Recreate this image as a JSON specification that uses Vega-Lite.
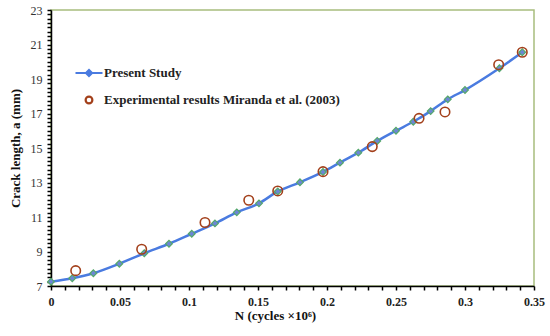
{
  "$schema": "https://vega.github.io/schema/vega-lite/v6.json",
  "width": 483,
  "height": 276,
  "autosize": {"type": "none"},
  "padding": {"left": 51, "top": 10, "right": 16, "bottom": 50},
  "background": "white",
  "config": {"view": {"stroke": "#a8bd7e", "strokeWidth": 1.5}, "font": "Liberation Serif"},
  "datasets": {
    "present": [
      {"N": 0, "a": 7.25}, {"N": 0.0154, "a": 7.45}, {"N": 0.0307, "a": 7.74}, {"N": 0.0495, "a": 8.29},
      {"N": 0.0676, "a": 8.9}, {"N": 0.0855, "a": 9.45}, {"N": 0.102, "a": 10.03}, {"N": 0.1188, "a": 10.63},
      {"N": 0.1346, "a": 11.27}, {"N": 0.1507, "a": 11.79}, {"N": 0.1643, "a": 12.48}, {"N": 0.1804, "a": 13.01},
      {"N": 0.1971, "a": 13.61}, {"N": 0.2094, "a": 14.15}, {"N": 0.2227, "a": 14.73}, {"N": 0.2364, "a": 15.41},
      {"N": 0.25, "a": 16.0}, {"N": 0.2625, "a": 16.52}, {"N": 0.2751, "a": 17.14}, {"N": 0.2875, "a": 17.82},
      {"N": 0.3, "a": 18.36}, {"N": 0.3249, "a": 19.62}, {"N": 0.3415, "a": 20.55}
    ],
    "exp": [
      {"N": 0.0179, "a": 7.89}, {"N": 0.0657, "a": 9.13}, {"N": 0.1116, "a": 10.68}, {"N": 0.1433, "a": 11.97},
      {"N": 0.1643, "a": 12.51}, {"N": 0.1971, "a": 13.63}, {"N": 0.2328, "a": 15.08}, {"N": 0.2667, "a": 16.72},
      {"N": 0.2855, "a": 17.09}, {"N": 0.3244, "a": 19.83}, {"N": 0.3415, "a": 20.55}
    ]
  },
  "encoding": {
    "x": {
      "field": "N", "type": "quantitative",
      "scale": {"domain": [0, 0.35], "nice": false, "zero": false},
      "axis": {
        "title": "N (cycles ×10⁶)",
        "values": [0,0.01,0.02,0.03,0.04,0.05,0.06,0.07,0.08,0.09,0.1,0.11,0.12,0.13,0.14,0.15,0.16,0.17,0.18,0.19,0.2,0.21,0.22,0.23,0.24,0.25,0.26,0.27,0.28,0.29,0.3,0.31,0.32,0.33,0.34,0.35],
        "labelExpr": "abs(datum.value*20 - round(datum.value*20)) < 0.001 ? format(datum.value, '~g') : ''",
        "labelOverlap": false, "labelFlush": false, "labelBound": false,
        "grid": false, "domainColor": "#000", "domainWidth": 1.5,
        "tickColor": "#000", "tickSize": 4, "tickWidth": 1.5,
        "labelFont": "Liberation Serif", "labelFontSize": 12, "labelFontWeight": "bold", "labelColor": "#222", "labelPadding": 6,
        "titleFont": "Liberation Serif", "titleFontSize": 13, "titleFontWeight": "bold", "titleColor": "#111",
        "titleX": 224, "titleY": 29, "titleAlign": "center", "titleBaseline": "middle"
      }
    },
    "y": {
      "field": "a", "type": "quantitative",
      "scale": {"domain": [7, 23], "nice": false, "zero": false},
      "axis": {
        "title": "Crack length, a (mm)",
        "values": [7,7.25,7.5,7.75,8,8.25,8.5,8.75,9,9.25,9.5,9.75,10,10.25,10.5,10.75,11,11.25,11.5,11.75,12,12.25,12.5,12.75,13,13.25,13.5,13.75,14,14.25,14.5,14.75,15,15.25,15.5,15.75,16,16.25,16.5,16.75,17,17.25,17.5,17.75,18,18.25,18.5,18.75,19,19.25,19.5,19.75,20,20.25,20.5,20.75,21,21.25,21.5,21.75,22,22.25,22.5,22.75,23],
        "labelExpr": "datum.value % 2 == 1 ? format(datum.value, 'd') : ''",
        "labelOverlap": false, "labelFlush": false, "labelBound": false,
        "grid": false, "domainColor": "#000", "domainWidth": 1.5,
        "tickColor": "#000", "tickSize": 4, "tickWidth": 1.5,
        "labelFont": "Liberation Serif", "labelFontSize": 12, "labelColor": "#333", "labelPadding": 5,
        "titleFont": "Liberation Serif", "titleFontSize": 13, "titleFontWeight": "bold", "titleColor": "#111",
        "titleX": -36, "titleY": 138, "titleAlign": "center", "titleBaseline": "middle", "titleAngle": 270
      }
    }
  },
  "layer": [
    {
      "data": {"name": "present"},
      "mark": {"type": "line", "interpolate": "monotone", "color": "#4a7be0", "strokeWidth": 2.5}
    },
    {
      "data": {"name": "present"},
      "mark": {"type": "point", "shape": "diamond", "filled": true, "size": 45, "fill": "#6c86d6", "stroke": "#55a86a", "strokeWidth": 1.2, "opacity": 1}
    },
    {
      "data": {"name": "exp"},
      "mark": {"type": "point", "shape": "circle", "filled": false, "size": 90, "stroke": "#a3401b", "strokeWidth": 1.6, "opacity": 1}
    },
    {
      "data": {"name": "exp"},
      "transform": [{"filter": "datum.a < 0"}],
      "mark": {"type": "point", "strokeWidth": 2.2},
      "encoding": {
        "shape": {
          "field": "series", "type": "nominal",
          "scale": {"domain": ["Present Study", "Experimental results Miranda et al. (2003)"], "range": ["M-1,0H1M0,-0.22L0.22,0L0,0.22L-0.22,0Z", "M0.25,0A0.25,0.25,0,1,1,-0.25,0A0.25,0.25,0,1,1,0.25,0Z"]},
          "legend": {"title": null, "orient": "none", "legendX": 23, "legendY": 48, "symbolSize": 729, "symbolStrokeWidth": 2.2, "symbolOpacity": 1,
            "labelFont": "Liberation Serif", "labelFontSize": 13, "labelFontWeight": "bold", "labelColor": "#222", "labelOffset": 0, "labelLimit": 0, "rowPadding": 4, "padding": 0}
        },
        "stroke": {
          "field": "series", "type": "nominal",
          "scale": {"domain": ["Present Study", "Experimental results Miranda et al. (2003)"], "range": ["#4a7be0", "#a3401b"]},
          "legend": {"title": null}
        },
        "fill": {
          "field": "series", "type": "nominal",
          "scale": {"domain": ["Present Study", "Experimental results Miranda et al. (2003)"], "range": ["#55a86a", "transparent"]},
          "legend": {"title": null}
        }
      }
    }
  ]
}
